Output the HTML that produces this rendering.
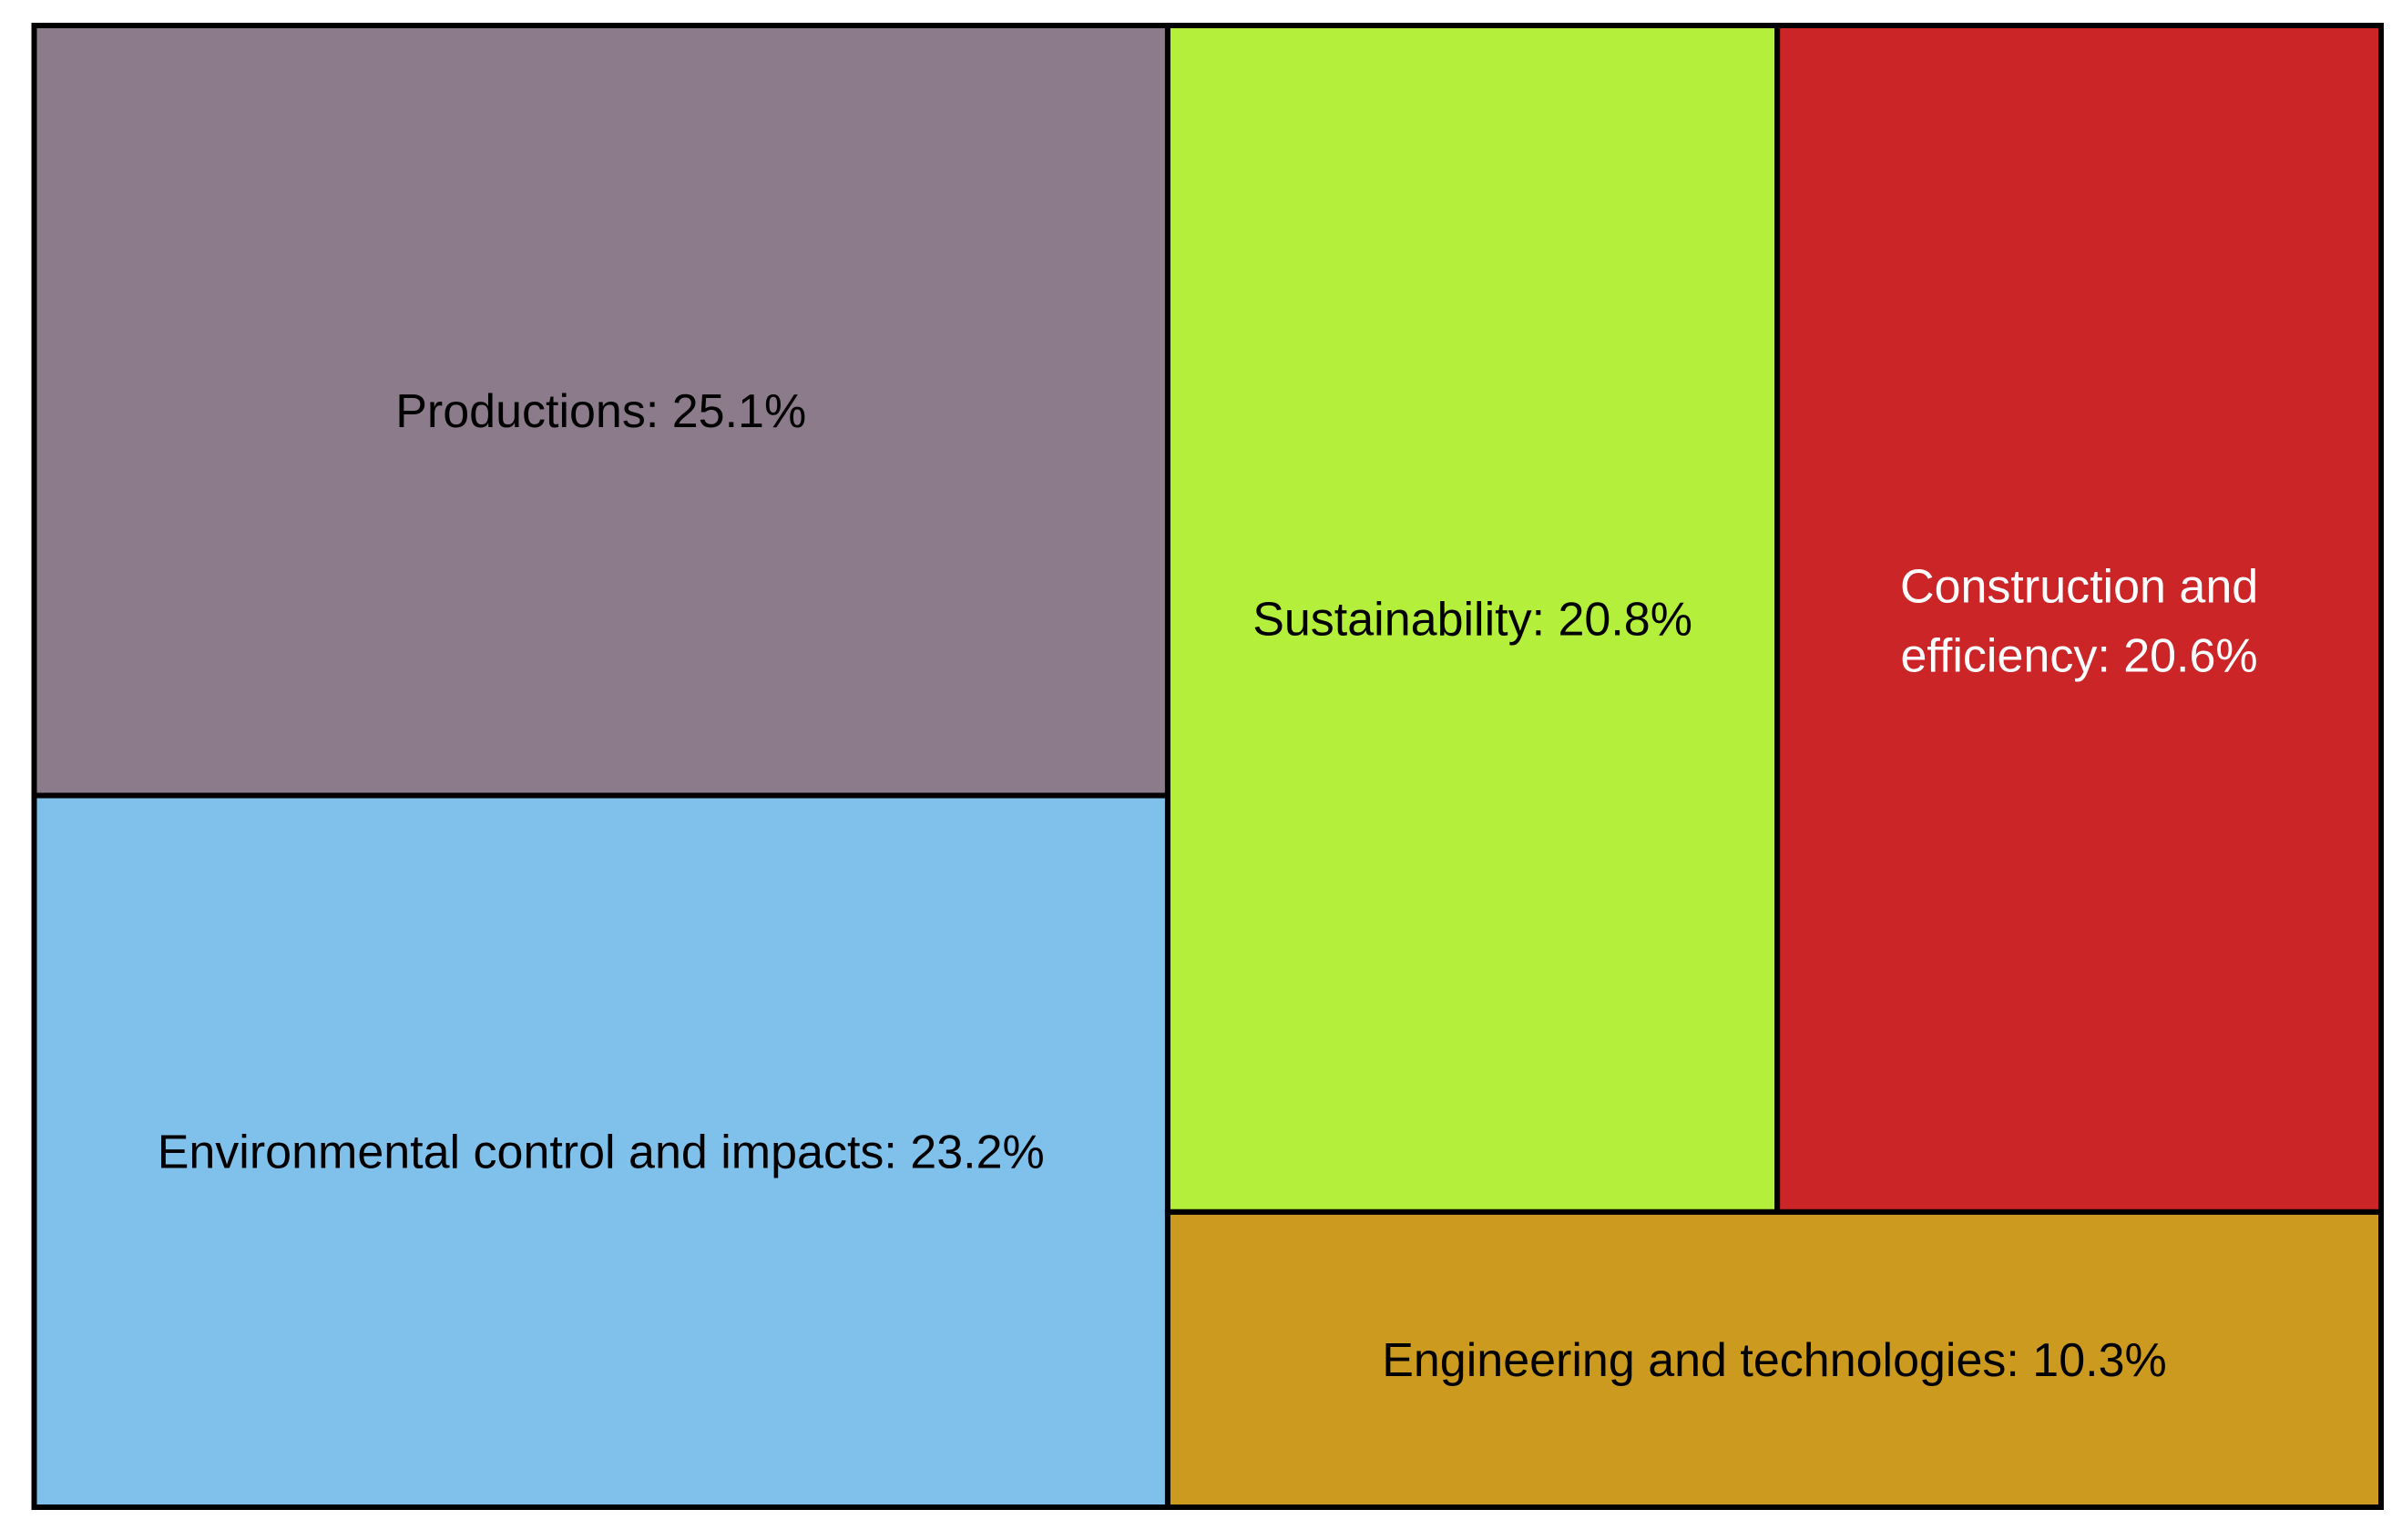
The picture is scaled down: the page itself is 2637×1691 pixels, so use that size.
<!DOCTYPE html>
<html><head><meta charset="utf-8"><style>
html,body{margin:0;padding:0;background:#fff;}
svg{display:block;}
text{font-family:"Liberation Sans",sans-serif;font-size:52px;}
</style></head><body>
<svg id="chart" width="2637" height="1691" viewBox="0 0 2637 1691"></svg>
<script>
const categories = ["Productions", "Environmental control and impacts", "Sustainability", "Construction and efficiency", "Engineering and technologies"];
const values = [25.1, 23.2, 20.8, 20.6, 10.3];
const colors = ["#8c7b8a", "#80c1ec", "#b4ef3c", "#cc2528", "#cc9a1f"];
const textColors = ["#000", "#000", "#000", "#fff", "#000"];

const svg = document.getElementById('chart');
const NS = 'http://www.w3.org/2000/svg';
const X0 = 37.5, Y0 = 28, X1 = 2614, Y1 = 1655;
const W = X1 - X0, H = Y1 - Y0;
const total = values.reduce((a, b) => a + b, 0);

const leftW = W * (values[0] + values[1]) / total;
const prodH = H * values[0] / (values[0] + values[1]);
const rightTotal = values[2] + values[3] + values[4];
const topH = H * (values[2] + values[3]) / rightTotal;
const rw = W - leftW;
const topRightSplit = values[2] / (values[2] + values[3]);
const rects = [
  [X0, Y0, leftW, prodH],
  [X0, Y0 + prodH, leftW, H - prodH],
  [X0 + leftW, Y0, rw * topRightSplit, topH],
  [X0 + leftW + rw * topRightSplit, Y0, rw * (1 - topRightSplit), topH],
  [X0 + leftW, Y0 + topH, rw, H - topH]
];
const slugs = ["productions", "environmental-control", "sustainability", "construction-efficiency", "engineering-technologies"];

rects.forEach((r, i) => {
  const g = document.createElementNS(NS, 'g');
  
  
  const rect = document.createElementNS(NS, 'rect');
  
  
  rect.setAttribute('x', r[0]); rect.setAttribute('y', r[1]);
  rect.setAttribute('width', r[2]); rect.setAttribute('height', r[3]);
  rect.setAttribute('fill', colors[i]);
  rect.setAttribute('stroke', '#000');
  rect.setAttribute('stroke-width', '6');
  g.appendChild(rect);
  const cx = r[0] + r[2] / 2, cy = r[1] + r[3] / 2;
  const label = categories[i] + ': ' + values[i].toFixed(1) + '%';
  const t = document.createElementNS(NS, 'text');
  
  
  t.setAttribute('text-anchor', 'middle');
  t.setAttribute('fill', textColors[i]);
  t.setAttribute('x', cx);
  if (i === 3) {
    const parts = ['Construction and', 'efficiency: ' + values[i].toFixed(1) + '%'];
    parts.forEach((p, k) => {
      const ts = document.createElementNS(NS, 'tspan');
      ts.setAttribute('x', cx);
      ts.setAttribute('y', cy - 18 + k * 76);
      ts.textContent = p;
      t.appendChild(ts);
    });
  } else {
    t.setAttribute('y', cy + 18);
    t.textContent = label;
  }
  g.appendChild(t);
  svg.appendChild(g);
});
</script>
</body></html>
